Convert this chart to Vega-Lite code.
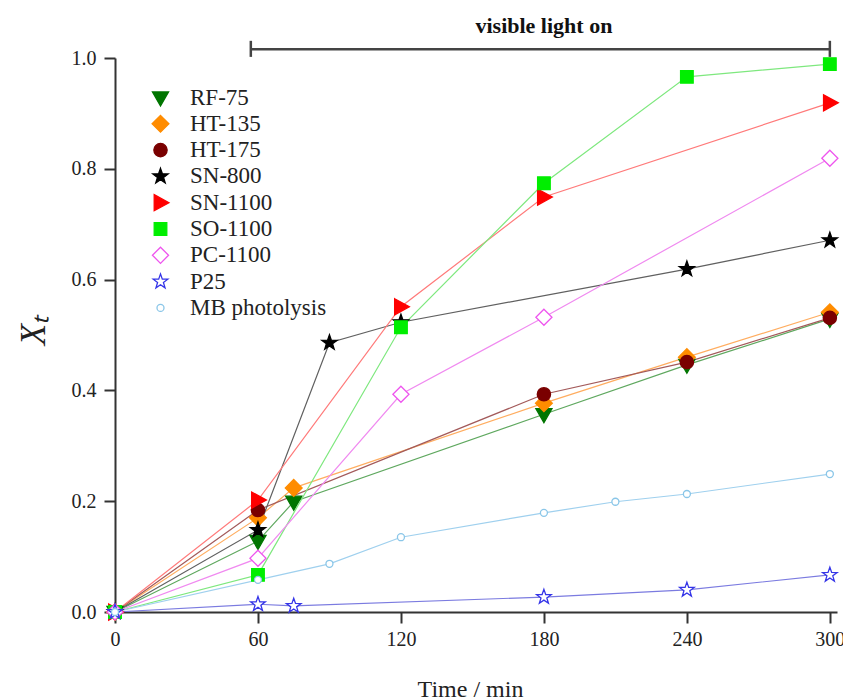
{
  "$schema": "https://vega.github.io/schema/vega-lite/v6.json",
  "width": 722,
  "height": 554,
  "autosize": {"type": "none"},
  "padding": {"left": 115, "top": 58, "right": 6, "bottom": 88},
  "background": "white",
  "data": {"values": [
    {"series": "RF-75", "time": 0, "xt": 0},
    {"series": "RF-75", "time": 60, "xt": 0.128},
    {"series": "RF-75", "time": 75, "xt": 0.199},
    {"series": "RF-75", "time": 180, "xt": 0.357},
    {"series": "RF-75", "time": 240, "xt": 0.446},
    {"series": "RF-75", "time": 300, "xt": 0.529},
    {"series": "HT-135", "time": 0, "xt": 0},
    {"series": "HT-135", "time": 60, "xt": 0.170},
    {"series": "HT-135", "time": 75, "xt": 0.224},
    {"series": "HT-135", "time": 180, "xt": 0.377},
    {"series": "HT-135", "time": 240, "xt": 0.460},
    {"series": "HT-135", "time": 300, "xt": 0.541},
    {"series": "HT-175", "time": 0, "xt": 0},
    {"series": "HT-175", "time": 60, "xt": 0.184},
    {"series": "HT-175", "time": 180, "xt": 0.393},
    {"series": "HT-175", "time": 240, "xt": 0.451},
    {"series": "HT-175", "time": 300, "xt": 0.531},
    {"series": "SN-800", "time": 0, "xt": 0},
    {"series": "SN-800", "time": 60, "xt": 0.148},
    {"series": "SN-800", "time": 90, "xt": 0.486},
    {"series": "SN-800", "time": 120, "xt": 0.523},
    {"series": "SN-800", "time": 240, "xt": 0.619},
    {"series": "SN-800", "time": 300, "xt": 0.671},
    {"series": "SN-1100", "time": 0, "xt": 0},
    {"series": "SN-1100", "time": 60, "xt": 0.202},
    {"series": "SN-1100", "time": 120, "xt": 0.551},
    {"series": "SN-1100", "time": 180, "xt": 0.749},
    {"series": "SN-1100", "time": 300, "xt": 0.919},
    {"series": "SO-1100", "time": 0, "xt": 0},
    {"series": "SO-1100", "time": 60, "xt": 0.067},
    {"series": "SO-1100", "time": 120, "xt": 0.514},
    {"series": "SO-1100", "time": 180, "xt": 0.774},
    {"series": "SO-1100", "time": 240, "xt": 0.966},
    {"series": "SO-1100", "time": 300, "xt": 0.989},
    {"series": "PC-1100", "time": 0, "xt": 0},
    {"series": "PC-1100", "time": 60, "xt": 0.097},
    {"series": "PC-1100", "time": 120, "xt": 0.393},
    {"series": "PC-1100", "time": 180, "xt": 0.532},
    {"series": "PC-1100", "time": 300, "xt": 0.819},
    {"series": "P25", "time": 0, "xt": 0},
    {"series": "P25", "time": 60, "xt": 0.014},
    {"series": "P25", "time": 75, "xt": 0.011},
    {"series": "P25", "time": 180, "xt": 0.027},
    {"series": "P25", "time": 240, "xt": 0.040},
    {"series": "P25", "time": 300, "xt": 0.067},
    {"series": "MB photolysis", "time": 0, "xt": 0},
    {"series": "MB photolysis", "time": 60, "xt": 0.058},
    {"series": "MB photolysis", "time": 90, "xt": 0.087},
    {"series": "MB photolysis", "time": 120, "xt": 0.135},
    {"series": "MB photolysis", "time": 180, "xt": 0.179},
    {"series": "MB photolysis", "time": 210, "xt": 0.199},
    {"series": "MB photolysis", "time": 240, "xt": 0.213},
    {"series": "MB photolysis", "time": 300, "xt": 0.249}
  ]},
  "layer": [
    {
      "mark": {"type": "line", "strokeWidth": 1.2},
      "encoding": {
        "x": {"field": "time", "type": "quantitative",
          "scale": {"domain": [0, 303], "nice": false, "zero": false},
          "axis": {"values": [0, 60, 120, 180, 240, 300], "title": "Time / min", "labelFlush": false,
            "titleX": 355, "titleY": 84, "titleBaseline": "alphabetic", "titleAlign": "center",
            "titleFontSize": 24, "labelFontSize": 20, "labelPadding": 6}},
        "y": {"field": "xt", "type": "quantitative",
          "scale": {"domain": [0, 1], "nice": false},
          "axis": {"values": [0, 0.2, 0.4, 0.6, 0.8, 1.0], "format": ".1f", "title": "Xₜ", "labelFlush": false,
            "titleX": -82, "titleY": 272, "titleAngle": -90, "titleAlign": "center", "titleBaseline": "middle",
            "titleFontSize": 35, "titleFontStyle": "italic", "labelFontSize": 20, "labelPadding": 8}},
        "color": {"field": "series", "type": "nominal", "legend": null,
          "scale": {"domain": ["MB photolysis", "P25", "PC-1100", "SO-1100", "SN-1100", "SN-800", "HT-175", "HT-135", "RF-75"],
            "range": ["#9fd0ee", "#7b7be0", "#f08af0", "#7ee87e", "#ff7a7a", "#606060", "#a35a5a", "#ffad60", "#5fa85f"]}}
      }
    },
    {
      "mark": {"type": "point", "opacity": 1, "strokeWidth": 1.3, "size": 196},
      "encoding": {
        "x": {"field": "time", "type": "quantitative"},
        "y": {"field": "xt", "type": "quantitative"},
        "shape": {"field": "series", "type": "nominal",
          "scale": {"domain": ["RF-75", "HT-135", "HT-175", "SN-800", "SN-1100", "SO-1100", "PC-1100", "P25", "MB photolysis"],
            "range": [
              "M-1.15,-0.8L1.15,-0.8L0,1.2Z",
              "M0,-1.2L1.2,0L0,1.2L-1.2,0Z",
              "M-0.95,0A0.95,0.95,0,1,0,0.95,0A0.95,0.95,0,1,0,-0.95,0Z",
              "M0,-1.15L0.27,-0.372L1.094,-0.355L0.437,0.142L0.676,0.93L0,0.46L-0.676,0.93L-0.437,0.142L-1.094,-0.355L-0.27,-0.372Z",
              "M-0.9,-1.15L1.2,0L-0.9,1.15Z",
              "M-0.9,-0.9L0.9,-0.9L0.9,0.9L-0.9,0.9Z",
              "M0,-1.15L1.15,0L0,1.15L-1.15,0Z",
              "M0,-1.1L0.258,-0.356L1.046,-0.34L0.418,0.136L0.647,0.89L0,0.44L-0.647,0.89L-0.418,0.136L-1.046,-0.34L-0.258,-0.356Z",
              "M-0.5,0A0.5,0.5,0,1,0,0.5,0A0.5,0.5,0,1,0,-0.5,0Z"
            ]},
          "legend": {"title": null, "orient": "none", "legendX": 34, "legendY": 28}},
        "fill": {"field": "series", "type": "nominal",
          "scale": {"domain": ["RF-75", "HT-135", "HT-175", "SN-800", "SN-1100", "SO-1100", "PC-1100", "P25", "MB photolysis"],
            "range": ["#007500", "#ff8c00", "#7a0000", "#000000", "#ff0000", "#00ee00", "#ffffff", "#ffffff", "#ffffff"]},
          "legend": {"title": null, "orient": "none", "legendX": 34, "legendY": 28}},
        "stroke": {"field": "series", "type": "nominal",
          "scale": {"domain": ["RF-75", "HT-135", "HT-175", "SN-800", "SN-1100", "SO-1100", "PC-1100", "P25", "MB photolysis"],
            "range": ["#007500", "#ff8c00", "#7a0000", "#000000", "#ff0000", "#00ee00", "#ee55ee", "#3535e8", "#8ac6e8"]},
          "legend": {"title": null, "orient": "none", "legendX": 34, "legendY": 28}}
      }
    },
    {
      "data": {"values": [{}]},
      "mark": {"type": "rule", "color": "#444444", "strokeWidth": 2.5},
      "encoding": {
        "x": {"datum": 57, "type": "quantitative"},
        "x2": {"datum": 300},
        "y": {"datum": 1.016, "type": "quantitative"}
      }
    },
    {
      "data": {"values": [{}]},
      "mark": {"type": "rule", "color": "#444444", "strokeWidth": 2.5},
      "encoding": {
        "x": {"datum": 57, "type": "quantitative"},
        "y": {"datum": 1.002, "type": "quantitative"},
        "y2": {"datum": 1.031}
      }
    },
    {
      "data": {"values": [{}]},
      "mark": {"type": "rule", "color": "#444444", "strokeWidth": 2.5},
      "encoding": {
        "x": {"datum": 300, "type": "quantitative"},
        "y": {"datum": 1.002, "type": "quantitative"},
        "y2": {"datum": 1.031}
      }
    },
    {
      "data": {"values": [{}]},
      "mark": {"type": "text", "text": "visible light on", "font": "Liberation Serif", "fontSize": 22, "fontWeight": "bold", "align": "center", "baseline": "alphabetic", "color": "#111111"},
      "encoding": {
        "x": {"datum": 180, "type": "quantitative"},
        "y": {"datum": 1.045, "type": "quantitative"}
      }
    }
  ],
  "config": {
    "view": {"stroke": null},
    "font": "Liberation Serif",
    "axis": {
      "grid": false,
      "domainColor": "#333333", "domainWidth": 2,
      "tickColor": "#333333", "tickWidth": 2, "tickSize": 11,
      "labelFont": "Liberation Serif", "labelColor": "#222222",
      "titleFont": "Liberation Serif", "titleColor": "#222222", "titleFontWeight": "normal"
    },
    "legend": {
      "padding": 0,
      "labelFont": "Liberation Serif", "labelFontSize": 23, "labelColor": "#222222",
      "symbolSize": 196, "symbolStrokeWidth": 1.3, "labelOffset": 18, "rowPadding": 2.3
    }
  }
}
